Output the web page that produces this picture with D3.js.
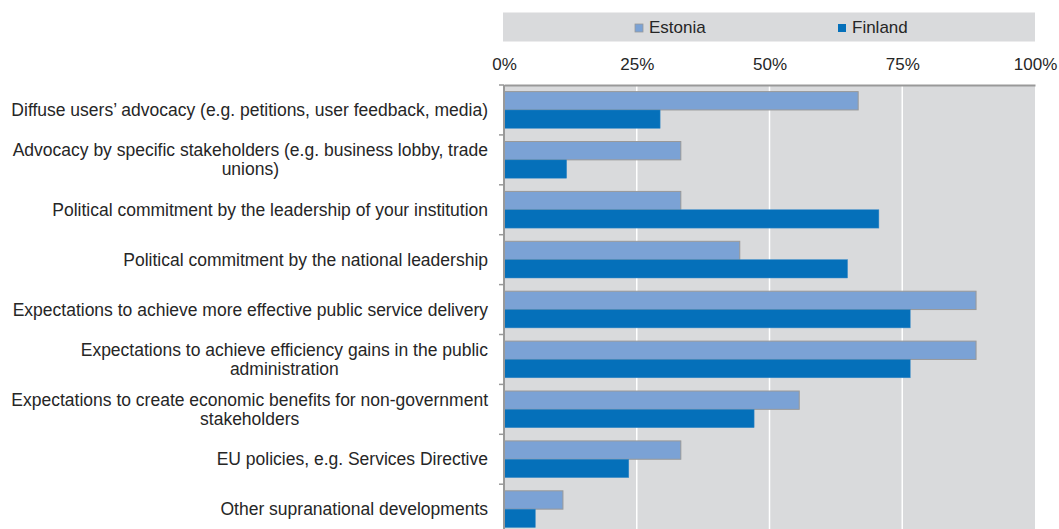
<!DOCTYPE html>
<html><head><meta charset="utf-8">
<script src="https://cdn.jsdelivr.net/npm/d3@7"></script>
<style>body{margin:0;background:#fff}svg{display:block;font-family:"Liberation Sans",Arial,sans-serif}</style>
</head><body>
<svg id="c" width="1059" height="529"></svg>
<script>
const categories = [
  ["Diffuse users\u2019 advocacy (e.g. petitions, user feedback, media)"],
  ["Advocacy by specific stakeholders (e.g. business lobby, trade", "unions)"],
  ["Political commitment by the leadership of your institution"],
  ["Political commitment by the national leadership"],
  ["Expectations to achieve more effective public service delivery"],
  ["Expectations to achieve efficiency gains in the public", "administration"],
  ["Expectations to create economic benefits for non-government", "stakeholders"],
  ["EU policies, e.g. Services Directive"],
  ["Other supranational developments"]
];
const seriesNames = ["Estonia", "Finland"];
const estonia = [66.7, 33.3, 33.3, 44.4, 88.9, 88.9, 55.6, 33.3, 11.1];
const finland = [29.4, 11.8, 70.6, 64.7, 76.5, 76.5, 47.1, 23.5, 5.9];
const tickValues = [0, 25, 50, 75, 100];

const colors = {Estonia: "#7ba2d5", Finland: "#0570ba"};
const svg = d3.select("#c");
const pLeft = 504, pRight = 1035, pTop = 85, bandH = 49.9;
const x = d3.scaleLinear().domain([0, 100]).range([pLeft, pRight]);
const y = d3.scaleBand().domain(d3.range(categories.length)).range([pTop, pTop + bandH * categories.length]).paddingInner(0.265).paddingOuter(0.1325);
const y2 = d3.scaleBand().domain(seriesNames).range([0, y.bandwidth()]);

// legend
svg.append("rect").attr("x", 503).attr("y", 12.5).attr("width", 532).attr("height", 29).attr("fill", "#d9dadc");
const leg = [{n: "Estonia", x: 635}, {n: "Finland", x: 838}];
leg.forEach(l => {
  svg.append("rect").attr("x", l.x).attr("y", 24).attr("width", 8).attr("height", 8)
    .attr("fill", colors[l.n]).attr("stroke", l.n === "Estonia" ? "#999" : "none").attr("stroke-width", 0.8);
  svg.append("text").attr("x", l.x + 14).attr("y", 33).attr("font-size", 17).attr("fill", "#262626").text(l.n);
});

// plot bg
svg.append("rect").attr("x", pLeft).attr("y", pTop).attr("width", pRight - pLeft).attr("height", bandH * categories.length).attr("fill", "#d9dadc");
// grid
svg.selectAll(".grid").data(tickValues.filter(t => t > 0 && t < 100)).join("line")
  .attr("x1", d => x(d)).attr("x2", d => x(d)).attr("y1", pTop).attr("y2", pTop + bandH * categories.length)
  .attr("stroke", "#fff").attr("stroke-width", 1.5);

// top axis
const xAxis = d3.axisTop(x).tickValues(tickValues).tickFormat(d => d + "%").tickSize(0).tickPadding(15);
const gx = svg.append("g").attr("transform", `translate(0,${pTop})`).call(xAxis);
gx.select(".domain").attr("stroke", "#999").attr("stroke-width", 2);
gx.selectAll("text").attr("font-size", 17).attr("fill", "#262626").attr("font-family", "Liberation Sans, Arial, sans-serif");

// bars
const data = categories.map((c, i) => ({i, vals: [{s: "Estonia", v: estonia[i]}, {s: "Finland", v: finland[i]}]}));
const g = svg.append("g");
g.selectAll("g").data(data).join("g").attr("transform", d => `translate(0,${y(d.i)})`)
  .selectAll("rect").data(d => d.vals).join("rect")
  .attr("x", x(0)).attr("y", d => y2(d.s)).attr("width", d => x(d.v) - x(0)).attr("height", y2.bandwidth())
  .attr("fill", d => colors[d.s]).attr("stroke", d => d.s === "Estonia" ? "#999" : "#3d8bc8").attr("stroke-width", d => d.s === "Estonia" ? 1 : 0.5);

// left axis line + ticks
svg.append("line").attr("x1", pLeft).attr("x2", pLeft).attr("y1", pTop).attr("y2", pTop + bandH * categories.length).attr("stroke", "#999").attr("stroke-width", 2);
svg.selectAll(".tk").data(d3.range(categories.length + 1)).join("line")
  .attr("x1", pLeft - 5).attr("x2", pLeft).attr("y1", d => pTop + d * bandH).attr("y2", d => pTop + d * bandH)
  .attr("stroke", "#999").attr("stroke-width", 1.5);

// category labels
const labG = svg.append("g");
categories.forEach((lines, i) => {
  const cy = y(i) + y.bandwidth() / 2;
  const lh = 19;
  const t = labG.append("text").attr("font-size", 17.5).attr("fill", "#262626");
  const spans = lines.map((ln, k) => t.append("tspan").text(ln));
  const widths = spans.map(s => s.node().getComputedTextLength());
  const maxW = d3.max(widths);
  const rx = 488;
  const y0 = cy - (lines.length - 1) * lh / 2 + 6;
  spans.forEach((s, k) => {
    s.attr("x", rx - maxW / 2).attr("text-anchor", "middle").attr("y", y0 + k * lh);
  });
});
</script>
</body></html>
